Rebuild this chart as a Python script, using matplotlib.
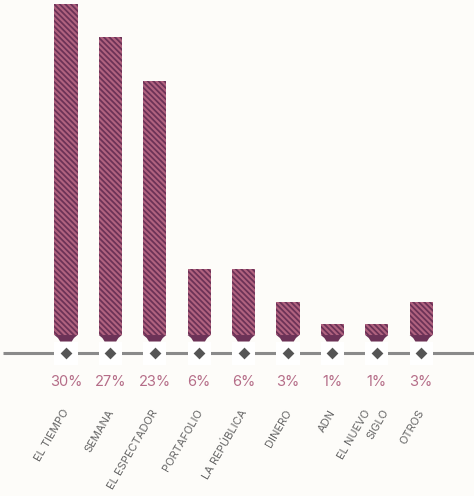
import matplotlib
matplotlib.use("Agg")
import matplotlib.pyplot as plt
from matplotlib.patches import Polygon, Rectangle
from matplotlib.transforms import offset_copy

categories = ["EL TIEMPO", "SEMANA", "EL ESPECTADOR", "PORTAFOLIO", "LA REPÚBLICA",
              "DINERO", "ADN", "EL NUEVO\nSIGLO", "OTROS"]
values = [30, 27, 23, 6, 6, 3, 1, 1, 3]
labels = ["30%", "27%", "23%", "6%", "6%", "3%", "1%", "1%", "3%"]

bg = "#fdfcf9"
face = "#b0627f"
dark = "#6c3257"
plt.rcParams['hatch.color'] = dark
plt.rcParams['hatch.linewidth'] = 1.3

fig = plt.figure(figsize=(4.74, 4.96), dpi=100, facecolor=bg)
ax = fig.add_axes([0, 0, 1, 1])
ax.set_facecolor(bg)
ax.set_xlim(-1.486, 9.19)
ax.set_ylim(-14.59, 30.36)
ax.axis("off")

x = list(range(len(categories)))
w = 0.52
ax.bar(x, values, width=w, color=face, hatch="\\\\\\\\\\\\", edgecolor=dark, linewidth=0,
       zorder=2)

ax.plot([-1.42, 9.19], [-1.63, -1.63], color="#8a8a8a", lw=2.2, zorder=1,
        solid_capstyle="butt")

py = 30 / 331.0  # data units per pixel
for xi in x:
    trap = Polygon([(xi - w / 2, 0), (xi + w / 2, 0),
                    (xi + w / 2 - 0.08, -3 * py), (xi + w / 2 - 0.13, -6.5 * py),
                    (xi - w / 2 + 0.13, -6.5 * py), (xi - w / 2 + 0.08, -3 * py)],
                   closed=True, facecolor=dark, edgecolor="none", zorder=3)
    ax.add_patch(trap)
    ax.add_patch(Rectangle((xi - w / 2, -30 * py), w, 23 * py, facecolor="white",
                           edgecolor="none", zorder=2))
ax.scatter(x, [-1.63] * len(x), marker="D", s=36, color="#555555", zorder=4, linewidths=0)

for xi, lab in zip(x, labels):
    ax.text(xi, -4.3, lab, ha="center", va="center", fontsize=10.5, color="#b56d88",
            family=["Inter", "DejaVu Sans"])

for xi, cat in zip(x, categories):
    lines = cat.split("\n")
    n = len(lines)
    for k, line in enumerate(lines):
        dx_pt = (k - (n - 1) / 2) * 13.0
        tr = offset_copy(ax.transData, fig=fig, x=dx_pt, y=0, units="points")
        ax.text(xi - 0.08, -6.6, line, ha="right", va="top", rotation=60,
                rotation_mode="anchor", fontsize=8, color="#666666",
                family=["Inter", "DejaVu Sans"], transform=tr)

fig.savefig("out.png", dpi=100, facecolor=bg)
